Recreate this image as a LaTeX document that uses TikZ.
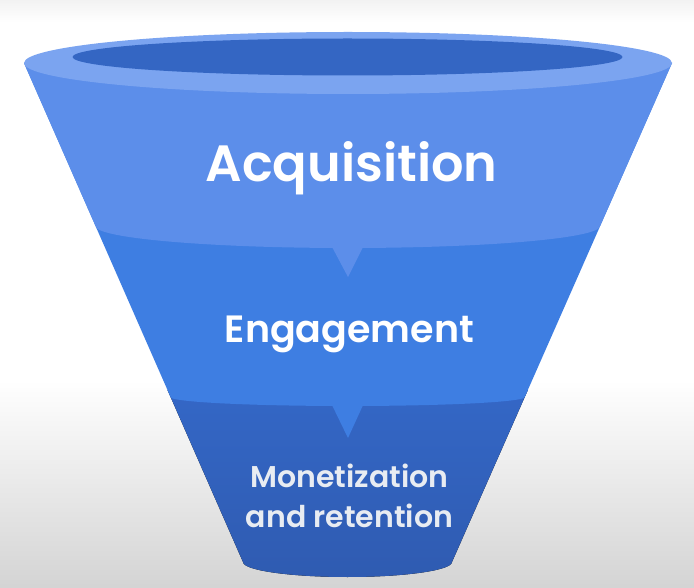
\documentclass[tikz,border=0pt]{standalone}
\usepackage{fontspec}
\newfontfamily\funnelfont{Poppins SemiBold}
\usetikzlibrary{calc}
\definecolor{rimlight}{HTML}{7BA4F0}
\definecolor{rimdark}{HTML}{3466C3}
\definecolor{bandtop}{HTML}{5C8EEA}
\definecolor{bandmid}{HTML}{3E7EE2}
\definecolor{bandlow}{HTML}{3467C6}
\definecolor{bandlowend}{HTML}{2F5BB1}
\definecolor{greytext}{HTML}{E8ECF2}
\def\funnel{(24,63) -- (243,562) arc[start angle=180, end angle=360, x radius=104.5pt, y radius=15pt] -- (672,63) -- cycle}
\tikzset{funnel label/.style={text=white, inner sep=0pt, anchor=base}}

\begin{document}
\begin{tikzpicture}[x=1pt, y=-1pt]
		%%%%% BACKGROUND %%%%%
		\useasboundingbox (0,0) rectangle (694,588);
		\fill[white] (0,0) rectangle (694,588);
		\fill[top color=black!5, bottom color=white] (0,0) rectangle (694,22);
		\fill[top color=white, bottom color=black!17] (0,380) rectangle (694,588);
		
		%%%%% FUNNEL %%%%%
		\begin{scope}
			\clip \funnel;
			\fill[top color=bandlow, bottom color=bandlowend] (0,390) rectangle (694,580);
			
			\fill[bandmid] (0,0) -- (0,397) -- (170.3,397) arc[start angle=180, end angle=360, x radius=177.2pt, y radius=9pt] -- (694,397) -- (694,0) -- cycle;
			\fill[bandmid] (331,403) -- (364,403) -- (348,438) -- cycle;
			
			\fill[bandtop] (0,0) -- (0,226) -- (95.4,226) arc[start angle=180, end angle=360, x radius=252.3pt, y radius=22pt] -- (694,226) -- (694,0) -- cycle;
			\fill[bandtop] (331,245) -- (364,245) -- (348,277) -- cycle;
		\end{scope}
		
		\fill[rimlight] (348,63) ellipse[x radius=324pt, y radius=31pt];
		\fill[rimdark] (347.5,57) ellipse[x radius=275pt, y radius=18.5pt];
		
		%%%%% LABELS %%%%%
		\node[funnel label, font=\funnelfont\fontsize{51}{60}\selectfont] (acq) at (351.5,182) {Acquisition};
		\node[funnel label, font=\funnelfont\fontsize{38}{46}\selectfont] (eng) at (349.5,342) {Engagement};
		\node[funnel label, text=greytext, align=center, font=\funnelfont\fontsize{30}{40}\selectfont] (mon) at (349.5,527) {Monetization\\and retention};
		
	\end{tikzpicture}
\end{document}
